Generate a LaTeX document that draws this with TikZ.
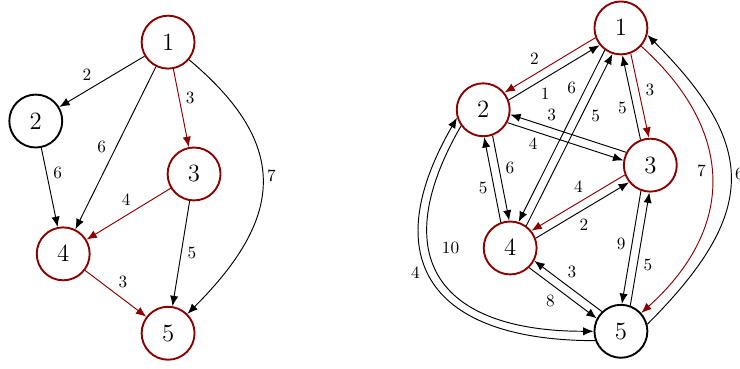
\documentclass[tikz,border=0pt]{standalone}
\usetikzlibrary{arrows.meta}
\definecolor{pathred}{RGB}{139,0,0}
\tikzset{
    vertex/.style = {circle, draw, line width = 1.1pt, minimum size = 1.08cm, inner sep = 0pt, font = \Large},
    hit/.style = {vertex, draw = pathred},
    arc/.style = {-{Latex[length = 6pt, width = 4.8pt]}, line width = 0.55pt},
    weight/.style = {font = \normalsize, inner sep = 2.5pt}
}
\begin{document}
\begin{tikzpicture}
    \useasboundingbox (0, 0) rectangle (15.1, -7.51);
    \node[hit] (l1) at (3.43, -0.86) {$1$};
    \node[vertex] (l2) at (0.73, -2.47) {$2$};
    \node[hit] (l3) at (3.96, -3.55) {$3$};
    \node[hit] (l4) at (1.29, -5.18) {$4$};
    \node[hit] (l5) at (3.43, -6.80) {$5$};
    \node[hit] (r1) at (12.67, -0.57) {$1$};
    \node[hit] (r2) at (9.86, -2.24) {$2$};
    \node[hit] (r3) at (13.27, -3.37) {$3$};
    \node[hit] (r4) at (10.41, -5.06) {$4$};
    \node[vertex] (r5) at (12.67, -6.76) {$5$};
    \foreach \ea/\eb/\ew/\ec/\el/\ep in {l1/l2/2/black/right/0.57, l1/l4/6/black/right/0.56, l1/l3/3/pathred/left/0.5, l2/l4/6/black/left/0.45, l3/l4/4/pathred/right/0.42, l3/l5/5/black/left/0.4, l4/l5/3/pathred/left/0.47}{
        \draw[arc, draw = \ec] (\ea) -- node[weight, auto = \el, pos = \ep] {$\ew$} (\eb);
    }
    \draw[arc] (l1) to[out = -40, in = 45, looseness = 1.35] node[weight, auto = left, pos = 0.47] {$7$} (l5);
    \foreach \ea/\eb/\ew/\ec/\es/\el/\ep in {r1/r2/2/pathred/-9/right/0.57, r2/r1/1/black/-9/right/0.3, r1/r4/6/black/-9/right/0.28, r4/r1/5/black/-9/right/0.7, r3/r2/3/black/-9/right/0.72, r2/r3/4/black/-9/right/0.3, r3/r1/5/black/9/left/0.5, r1/r3/3/pathred/9/left/0.55, r4/r2/5/black/9/left/0.52, r2/r4/6/black/9/left/0.5, r3/r4/4/pathred/-9/right/0.4, r4/r3/2/black/-9/right/0.42, r3/r5/9/black/-9/right/0.56, r5/r3/5/black/-9/right/0.45, r5/r4/3/black/-9/right/0.58, r4/r5/8/black/-9/right/0.45}{
        \pgfmathanglebetweenpoints{\pgfpointanchor{\ea}{center}}{\pgfpointanchor{\eb}{center}}
        \let\eang\pgfmathresult
        \pgfmathsetmacro{\sa}{\eang + \es}
        \pgfmathsetmacro{\ta}{\eang + 180 - \es}
        \draw[arc, draw = \ec] (\ea.\sa) -- node[weight, auto = \el, pos = \ep] {$\ew$} (\eb.\ta);
    }
    \draw[arc, draw = pathred] (r1) to[out = -42, in = 42, looseness = 1.22] node[weight, auto = right, pos = 0.43] {$7$} (r5);
    \draw[arc] (r5.15) to[out = 45, in = -45, looseness = 1.39] node[weight, auto = right, pos = 0.52] {$6$} (r1.-15);
    \draw[arc] (r2.216) to[out = 240, in = 180, looseness = 1.6] node[weight, auto = left, pos = 0.43, inner sep = 5pt] {$10$} (r5.180);
    \draw[arc] (r5.200) to[out = 180, in = 240, looseness = 1.6] node[weight, auto = left, pos = 0.58] {$4$} (r2.197);
\end{tikzpicture}
\end{document}
